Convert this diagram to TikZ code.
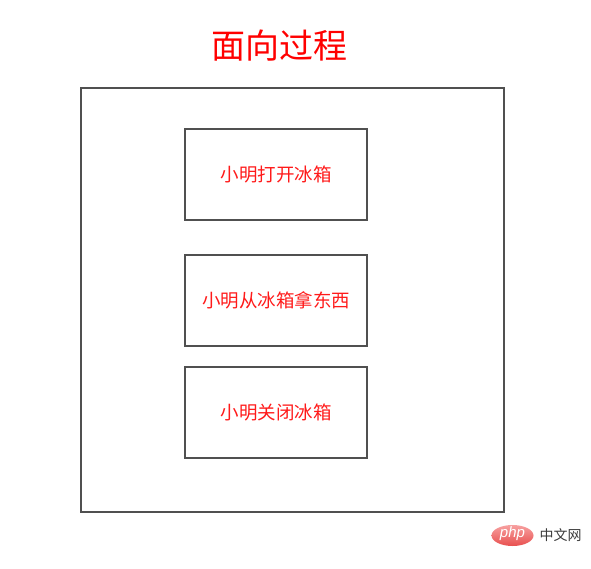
\documentclass[tikz,border=0pt]{standalone}
\usepackage{fontspec}
\usetikzlibrary{shapes.geometric}
\newfontfamily\cjk{Noto Sans CJK SC}
\setmainfont{Liberation Sans}
\definecolor{boxgray}{HTML}{505050}
\definecolor{txtred}{HTML}{FF1A1A}
\definecolor{wmgray}{HTML}{3A3A3A}
\definecolor{phplight}{HTML}{F7A0A0}
\definecolor{phpdark}{HTML}{E8504F}
\begin{document}
\begin{tikzpicture}[x=1pt,y=-1pt,
  frame/.style={draw=boxgray,line width=1.6pt},
  stepbox/.style={draw=boxgray,line width=1.6pt,minimum width=182pt,minimum height=91pt,inner sep=0pt,text=txtred,font=\cjk\fontsize{18.5}{20}\selectfont},
  title/.style={text=red,font=\cjk\fontsize{34}{36}\selectfont}]
\useasboundingbox (0,0) rectangle (591,569);
\node[title] (t) at (279,46) {面向过程};
\node[frame,minimum width=423pt,minimum height=424pt,inner sep=0pt] (outer) at (292.5,300) {};
\node[stepbox] (s1) at (276,174.5) {小明打开冰箱};
\node[stepbox] (s2) at (276,300.5) {小明从冰箱拿东西};
\node[stepbox] (s3) at (276,412.5) {小明关闭冰箱};
\node[ellipse,inner sep=0pt,minimum width=42pt,minimum height=21pt,top color=phplight,bottom color=phpdark,draw=none] (logo) at (512.5,535.5) {};
\node[text=white,font=\itshape\fontsize{15}{15}\selectfont] (php) at (512.5,534) {php};
\node[text=wmgray,font=\cjk\fontsize{14}{15}\selectfont,anchor=west] (wm) at (536,535.5) {中文网};
\end{tikzpicture}
\end{document}
